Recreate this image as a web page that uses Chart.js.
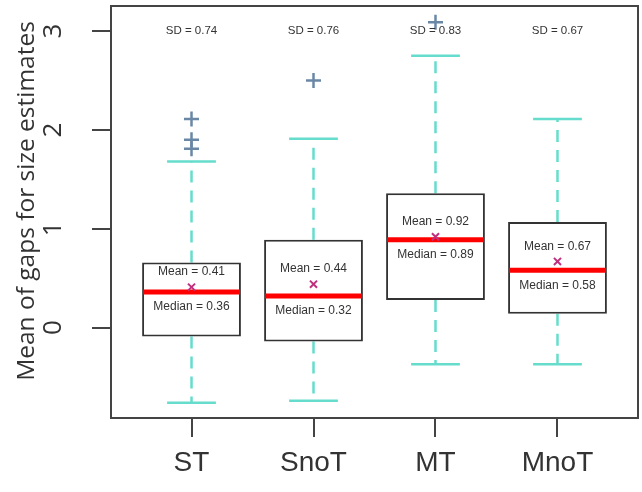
<!DOCTYPE html>
<html>
<head>
<meta charset="utf-8">
<script src="https://cdn.jsdelivr.net/npm/chart.js@4.4.1/dist/chart.umd.min.js"></script>
<style>
  body { margin: 0; background: #fff; }
  canvas { display: block; }
</style>
</head>
<body>
<canvas id="chart" width="642" height="492"></canvas>
<script>
// data
const categories = ['ST', 'SnoT', 'MT', 'MnoT'];
const q1 = [-0.09, -0.14, 0.28, 0.14];
const q3 = [0.66, 0.89, 1.36, 1.07];
const medians = [0.36, 0.32, 0.89, 0.58];
const means = [0.41, 0.44, 0.92, 0.67];
const whiskerLow = [-0.76, -0.74, -0.37, -0.37];
const whiskerHigh = [1.68, 1.91, 2.75, 2.11];
const sds = [0.74, 0.76, 0.83, 0.67];
const outliers = [[2.11, 1.90, 1.81], [2.50], [3.09], []];
const yTicks = [0, 1, 2, 3];

const TEXT = '#333333';
const WHISKER = '#66DDCC';

// dashed whiskers + caps, drawn under the boxes
const whiskerPlugin = {
  id: 'whiskers',
  beforeDatasetsDraw(chart) {
    const { ctx, scales: { x, y } } = chart;
    ctx.save();
    ctx.strokeStyle = WHISKER;
    ctx.lineWidth = 2.5;
    categories.forEach((c, i) => {
      const px = x.getPixelForValue(i + 1);
      const capHalf = (x.getPixelForValue(1.2) - x.getPixelForValue(1));
      ctx.setLineDash([12, 8]);
      ctx.beginPath();
      ctx.moveTo(px, y.getPixelForValue(q3[i]));
      ctx.lineTo(px, y.getPixelForValue(whiskerHigh[i]));
      ctx.moveTo(px, y.getPixelForValue(q1[i]));
      ctx.lineTo(px, y.getPixelForValue(whiskerLow[i]));
      ctx.stroke();
      ctx.setLineDash([]);
      ctx.beginPath();
      [whiskerHigh[i], whiskerLow[i]].forEach(v => {
        const py = y.getPixelForValue(v);
        ctx.moveTo(px - capHalf, py);
        ctx.lineTo(px + capHalf, py);
      });
      ctx.stroke();
    });
    ctx.restore();
  },
  // red median line right after the boxes, before the mean markers
  afterDatasetDraw(chart, args) {
    if (args.index !== 0) return;
    const { ctx, scales: { y } } = chart;
    const meta = chart.getDatasetMeta(0);
    ctx.save();
    ctx.strokeStyle = '#FF0000';
    ctx.lineWidth = 5;
    meta.data.forEach((bar, i) => {
      const py = y.getPixelForValue(medians[i]);
      ctx.beginPath();
      ctx.moveTo(bar.x - bar.width / 2 + 1, py);
      ctx.lineTo(bar.x + bar.width / 2 - 1, py);
      ctx.stroke();
    });
    ctx.restore();
  },
  afterDraw(chart) {
    const { ctx, chartArea: a, scales: { x, y } } = chart;
    ctx.save();
    // frame round the plot
    ctx.strokeStyle = '#444';
    ctx.lineWidth = 2;
    ctx.strokeRect(a.left, a.top, a.right - a.left, a.bottom - a.top);

    ctx.fillStyle = TEXT;
    ctx.textAlign = 'center';
    ctx.textBaseline = 'middle';
    categories.forEach((c, i) => {
      const px = x.getPixelForValue(i + 1);
      ctx.font = '11.5px "Liberation Sans", Arial, sans-serif';
      ctx.fillText('SD = ' + sds[i].toFixed(2), px, y.getPixelForValue(3));
      ctx.font = '12px "Liberation Sans", Arial, sans-serif';
      ctx.fillText('Mean = ' + means[i].toFixed(2), px, y.getPixelForValue(means[i]) - 15);
      ctx.fillText('Median = ' + medians[i].toFixed(2), px, y.getPixelForValue(medians[i]) + 15);
    });

    // rotated y tick labels, as R draws them
    ctx.font = '26px "Open Sans", sans-serif';
    yTicks.forEach(v => {
      ctx.save();
      ctx.translate(54, y.getPixelForValue(v));
      ctx.rotate(-Math.PI / 2);
      ctx.fillText(String(v), 0, 0);
      ctx.restore();
    });

    // y title
    ctx.font = '24.5px "Open Sans", sans-serif';
    ctx.save();
    ctx.translate(27, 201);
    ctx.rotate(-Math.PI / 2);
    ctx.fillText('Mean of gaps for size estimates', 0, 0);
    ctx.restore();
    ctx.restore();
  }
};

new Chart(document.getElementById('chart'), {
  type: 'bar',
  data: {
    datasets: [
      {
        type: 'bar',
        data: categories.map((c, i) => ({ x: i + 1, y: [q1[i], q3[i]] })),
        backgroundColor: '#ffffff',
        borderColor: '#333333',
        borderWidth: 2,
        borderSkipped: false,
        barPercentage: 0.81,
        categoryPercentage: 1,
        order: 3
      },
      {
        type: 'scatter',
        data: categories.map((c, i) => ({ x: i + 1, y: means[i] })),
        pointStyle: 'crossRot',
        radius: 5,
        borderColor: '#C0307F',
        borderWidth: 2,
        order: 1
      },
      {
        type: 'scatter',
        data: outliers.flatMap((list, i) => list.map(v => ({ x: i + 1, y: v }))),
        pointStyle: 'cross',
        radius: 7.5,
        borderColor: '#6A88A6',
        borderWidth: 2.5,
        order: 2
      }
    ]
  },
  options: {
    responsive: false,
    animation: false,
    layout: { autoPadding: false, padding: { top: 6, right: 4, left: 0, bottom: 0 } },
    plugins: { legend: { display: false }, tooltip: { enabled: false } },
    scales: {
      x: {
        type: 'linear',
        min: 0.34,
        max: 4.66,
        offset: false,
        afterBuildTicks: s => { s.ticks = categories.map((c, i) => ({ value: i + 1 })); },
        afterFit: s => { s.height = 74; },
        border: { display: false },
        grid: { offset: false, drawOnChartArea: false, drawTicks: true, tickLength: 19, color: '#444', lineWidth: 2 },
        ticks: {
          padding: 9,
          color: TEXT,
          font: { family: '"Liberation Sans", Arial, sans-serif', size: 28 },
          maxRotation: 0,
          callback: v => categories[v - 1]
        }
      },
      y: {
        min: -0.914,
        max: 3.254,
        afterBuildTicks: s => { s.ticks = yTicks.map(v => ({ value: v })); },
        afterFit: s => { s.width = 111; },
        border: { display: false },
        grid: { drawOnChartArea: false, drawTicks: true, tickLength: 19, color: '#444', lineWidth: 2 },
        ticks: { display: false }
      }
    }
  },
  plugins: [whiskerPlugin]
});
</script>
</body>
</html>
